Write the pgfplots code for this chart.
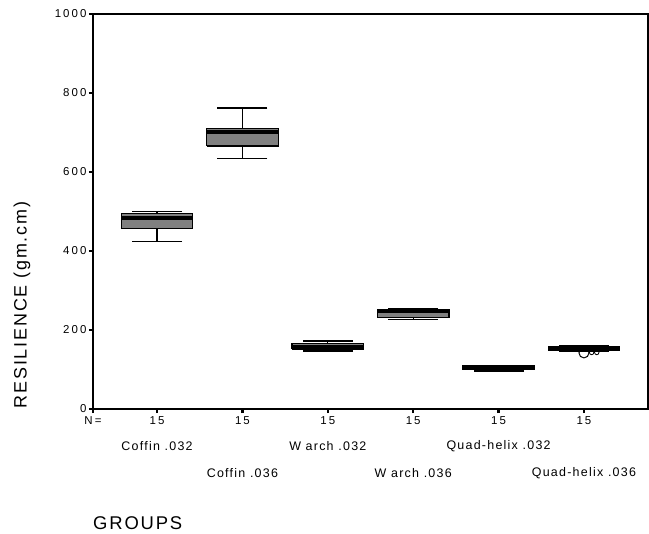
\documentclass[border=0pt]{standalone}
\usepackage{fontspec}
\setmainfont{Liberation Sans}
\newfontfamily\tickfont{Liberation Sans}[LetterSpace=18]
\newfontfamily\labfont{Liberation Sans}[LetterSpace=10]
\usepackage{pgfplots}
\pgfplotsset{compat=1.18}
\definecolor{boxgray}{HTML}{808080}
\tikzset{catlab/.style={font=\labfont\fontsize{12.5}{14}\selectfont}}

% #1 centre, #2 left, #3 right, #4 lower whisker, #5 Q1, #6 median, #7 Q3, #8 upper whisker
\newcommand{\bx}[8]{%
  \addplot[black, line width=1.2pt, mark=-, mark size=25bp, mark options={solid, line width=1.2pt}]
    coordinates {(#1,#4)(#1,#8)};
  \addplot[draw=black, fill=boxgray, line width=1.2pt]
    coordinates {(#2,#5)(#3,#5)(#3,#7)(#2,#7)(#2,#5)};
  \addplot[black, line width=4bp] coordinates {(#2,#6)(#3,#6)};
}

\begin{document}
\begin{tikzpicture}
\useasboundingbox (-93bp,-125bp) rectangle (556bp,409bp);
\begin{axis}[
  scale only axis,
  width=555bp, height=395bp,
  xmin=0.25, xmax=6.75, ymin=0, ymax=1000,
  axis line style={black, line width=1.1pt},
  ytick={0,200,400,600,800,1000},
  xtick={1,2,3,4,5,6},
  xticklabels={15,15,15,15,15,15},
  extra x ticks={0.25},
  extra x tick labels={N=},
  xtick pos=bottom, ytick pos=left,
  tick align=outside,
  major tick length=4bp,
  tick style={black, line width=2.6bp},
  tick label style={font=\tickfont\fontsize{11.5}{13}\selectfont},
  yticklabel style={xshift=1bp},
  /pgf/number format/assume math mode=true,
  /pgf/number format/1000 sep={},
  clip=false,
]
\bx{1}{0.58}{1.42}{425}{456}{484}{494}{501}   % Coffin .032
\bx{2}{1.58}{2.42}{635}{666}{701}{711}{762}   % Coffin .036
\bx{3}{2.58}{3.42}{147}{152}{158}{166}{172}   % W arch .032
\bx{4}{3.58}{4.42}{226}{231}{248}{252}{254}   % W arch .036
\bx{5}{4.58}{5.42}{96}{99}{104}{109}{111}     % Quad-helix .032
\bx{6}{5.58}{6.42}{146}{148}{153}{158}{160}   % Quad-helix .036
% outliers
\addplot[only marks, mark=o, mark size=5bp, mark options={line width=1pt, fill=white}] coordinates {(6,142)};
\addplot[only marks, mark=o, mark size=2.2bp, mark options={line width=0.8pt}] coordinates {(6.09,143)(6.15,143)};

\node[catlab] at (axis cs:1,0) [yshift=-37bp] {Coffin .032};
\node[catlab] at (axis cs:3,0) [yshift=-37bp] {W arch .032};
\node[catlab] at (axis cs:5,0) [yshift=-37bp] {Quad-helix .032};
\node[catlab] at (axis cs:2,0) [yshift=-64bp] {Coffin .036};
\node[catlab] at (axis cs:4,0) [yshift=-64bp] {W arch .036};
\node[catlab] at (axis cs:6,0) [yshift=-64bp] {Quad-helix .036};
\end{axis}
\node[rotate=90, font=\labfont\fontsize{18}{20}\selectfont] at (-71bp,104bp) {RESILIENCE (gm.cm)};
\node[anchor=west, inner sep=0pt, font=\labfont\fontsize{18.5}{21}\selectfont] at (0bp,-114bp) {GROUPS};
\end{tikzpicture}
\end{document}
